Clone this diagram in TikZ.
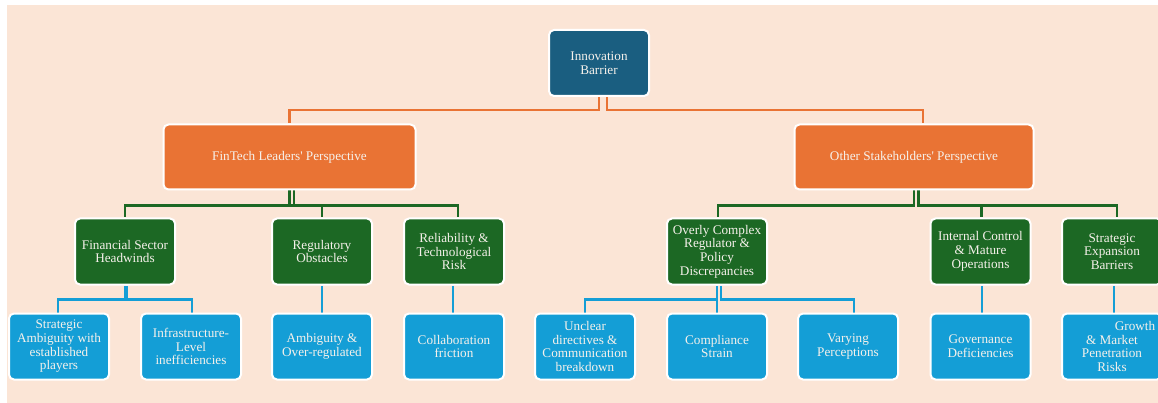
\documentclass[tikz,border=0pt]{standalone}
\usepackage{fontspec}
\setmainfont{Liberation Serif}
\usetikzlibrary{backgrounds}

\definecolor{peach}{RGB}{251,229,214}
\definecolor{rootblue}{RGB}{26,94,128}
\definecolor{persporange}{RGB}{233,115,52}
\definecolor{catgreen}{RGB}{28,104,36}
\definecolor{itemblue}{RGB}{20,158,214}
\definecolor{labeltext}{RGB}{246,241,235}

\tikzset{
  card/.style={rounded corners=5pt, draw=white, line width=2pt,
    text=labeltext, align=center, inner sep=0pt,
    font=\fontsize{13.2}{13.7}\selectfont,
    minimum width=100pt, minimum height=66pt},
  rootcard/.style={card, fill=rootblue},
  perspcard/.style={card, fill=persporange, minimum height=65pt},
  catcard/.style={card, fill=catgreen},
  itemcard/.style={card, fill=itemblue},
  link/.style={line width=2.4pt},
  orangelink/.style={link, draw=persporange},
  greenlink/.style={link, draw=catgreen},
  bluelink/.style={link, draw=itemblue},
}

\begin{document}
\begin{tikzpicture}[x=1pt, y=-1pt]
\useasboundingbox (0,0) rectangle (1158,403);

% root
\node[rootcard] (root) at (599,63) {Innovation\\Barrier};

% perspectives
\node[perspcard, minimum width=252pt] (fin) at (289.5,157) {FinTech Leaders\textquotesingle{} Perspective};
\node[perspcard, minimum width=239pt] (oth) at (914,157) {Other Stakeholders\textquotesingle{} Perspective};

% categories
\node[catcard] (fsh) at (125,251.5) {Financial Sector\\Headwinds};
\node[catcard] (reg) at (322,251.5) {Regulatory\\Obstacles};
\node[catcard] (rel) at (454,251.5) {Reliability \&\\Technological\\Risk};
\node[catcard] (ovc) at (717,251.5) {Overly Complex\\Regulator \&\\Policy\\Discrepancies};
\node[catcard] (icm) at (980.5,251.5) {Internal Control\\\& Mature\\Operations};
\node[catcard] (seb) at (1112,251.5) {Strategic\\Expansion\\Barriers};

% items
\node[itemcard] (sa)  at (59,346.5)   {Strategic\\Ambiguity with\\established\\players};
\node[itemcard] (inf) at (191,346.5)  {Infrastructure-\\Level\\inefficiencies};
\node[itemcard] (amb) at (322,346.5)  {Ambiguity \&\\Over-regulated};
\node[itemcard] (col) at (454,346.5)  {Collaboration\\friction};
\node[itemcard] (unc) at (585,346.5)  {Unclear\\directives \&\\Communication\\breakdown};
\node[itemcard] (cmp) at (717,346.5)  {Compliance\\Strain};
\node[itemcard] (var) at (848,346.5)  {Varying\\Perceptions};
\node[itemcard] (gov) at (980.5,346.5){Governance\\Deficiencies};
\node[itemcard] (gro) at (1112,346.5) {\hspace*{46pt}Growth\\\& Market\\Penetration\\Risks};

\begin{scope}[on background layer]
  \fill[peach] (7,5) rectangle (1158,403);

  % root to perspectives
  \draw[orangelink] (root.south) -- ++(0,13) -| (fin.north);
  \draw[orangelink] ([xshift=8pt]root.south) -- ++(0,13) -| ([xshift=9pt]oth.north);

  % perspectives to categories
  \draw[greenlink] (fin.south) -- ++(0,15) -| (fsh.north);
  \draw[greenlink] (fin.south) -- ++(0,15) -| (reg.north);
  \draw[greenlink] ([xshift=4.5pt]fin.south) -- ++(0,15) -| ([xshift=4pt]rel.north);
  \draw[greenlink] (oth.south) -- ++(0,15) -| ([xshift=1pt]ovc.north);
  \draw[greenlink] ([xshift=4.5pt]oth.south) -- ++(0,15) -| ([xshift=1pt]icm.north);
  \draw[greenlink] ([xshift=4.5pt]oth.south) -- ++(0,15) -| ([xshift=5pt]seb.north);

  % categories to items
  \draw[bluelink] (fsh.south) -- ++(0,14) -| ([xshift=-1pt]sa.north);
  \draw[bluelink] ([xshift=2pt]fsh.south) -- ++(0,14) -| ([xshift=1pt]inf.north);
  \draw[bluelink] (reg.south) -- (amb.north);
  \draw[bluelink] ([xshift=-1pt]rel.south) -- ([xshift=-1pt]col.north);
  \draw[bluelink] (ovc.south) -- ++(0,14) -| (unc.north);
  \draw[bluelink] (ovc.south) -- ++(0,14) -| (cmp.north);
  \draw[bluelink] ([xshift=4pt]ovc.south) -- ++(0,14) -| ([xshift=6pt]var.north);
  \draw[bluelink] ([xshift=1.5pt]icm.south) -- ([xshift=1.5pt]gov.north);
  \draw[bluelink] ([xshift=2pt]seb.south) -- ([xshift=2pt]gro.north);
\end{scope}
\end{tikzpicture}
\end{document}
